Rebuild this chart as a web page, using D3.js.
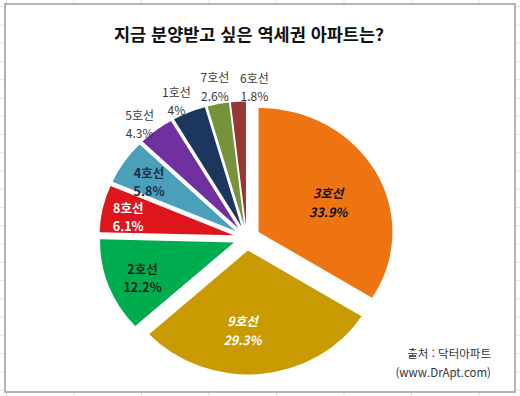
<!DOCTYPE html>
<html lang="ko">
<head>
<meta charset="UTF-8">
<title>역세권 아파트</title>
<style>
  body { margin: 0; background: #fff; }
  svg { display: block; font-family: "Noto Sans CJK KR", "Noto Sans", sans-serif; }
</style>
</head>
<body>
<div id="chart"></div>
<script src="https://d3js.org/d3.v7.min.js"></script>
<script>
// data, clockwise from 12 o'clock
const lines = ["3호선", "9호선", "2호선", "8호선", "4호선", "5호선", "1호선", "7호선", "6호선"];
const shares = [33.9, 29.3, 12.2, 6.1, 5.8, 4.3, 4, 2.6, 1.8];
const title = "지금 분양받고 싶은 역세권 아파트는?";
const source = ["출처 : 닥터아파트", "(www.DrApt.com)"];

const W = 520, H = 396;
const svg = d3.select("#chart").append("svg").attr("width", W).attr("height", H);

// excel sheet grid behind the chart
const grid = svg.append("g").attr("stroke", "#e3e3e3").attr("stroke-width", 1);
d3.range(6.5, W, 67.5).forEach(x => grid.append("line").attr("x1", x).attr("x2", x).attr("y1", 0).attr("y2", H));
d3.range(6.75, H, 18.25).forEach(y => grid.append("line").attr("x1", 0).attr("x2", W).attr("y1", y).attr("y2", y));

svg.append("rect")
    .attr("x", 5).attr("y", 4).attr("width", 510).attr("height", 388)
    .attr("fill", "#fff").attr("stroke", "#a0a0a0").attr("stroke-width", 1.6);

svg.append("text")
    .attr("x", 249).attr("y", 33)
    .attr("text-anchor", "middle").attr("dominant-baseline", "central")
    .style("font-size", "17.5px").style("font-weight", "bold").attr("fill", "#111")
    .text(title);

const color = d3.scaleOrdinal()
    .domain(lines)
    .range(["#ee7411", "#c99a02", "#00ad4e", "#dc161c", "#4a9fbb", "#7030a0", "#1b3760", "#76933c", "#953735"]);

const cx = 246.7, cy = 238, R = 124, sx = 1.08, explode = 12.5;

const data = lines.map((name, i) => ({name: name, share: shares[i]}));
const pie = d3.pie().sort(null).value(d => d.share);
const arc = d3.arc().innerRadius(0).outerRadius(R);
const arcs = pie(data);
const mid = d => (d.startAngle + d.endAngle) / 2;

const g = svg.append("g").attr("transform", `translate(${cx},${cy}) scale(${sx},1)`);
g.selectAll("path")
    .data(arcs)
    .join("path")
    .attr("transform", d => `translate(${Math.sin(mid(d)) * explode},${-Math.cos(mid(d)) * explode})`)
    .attr("d", arc)
    .attr("fill", d => color(d.data.name));

// label placement (manual nudges like dragged excel labels)
const nudge = {
  "3호선": [-13, 12], "9호선": [-14, -8], "2호선": [-3, 4], "8호선": [-13, 0], "4호선": [-8, -1],
  "5호선": [-6, 5], "1호선": [-6, 2], "7호선": [0, -3], "6호선": [17, 0]
};
const inside = d => d.data.share >= 5;
const labelStyle = {
  "3호선": {fill: "#111", weight: "bold", italic: true},
  "9호선": {fill: "#fff", weight: "bold", italic: true},
  "2호선": {fill: "#15251a", weight: "bold"},
  "8호선": {fill: "#fff", weight: "bold"},
  "4호선": {fill: "#1c2e48", weight: "bold"}
};

const labels = svg.append("g").selectAll("g")
    .data(arcs)
    .join("g")
    .attr("transform", d => {
      const r = inside(d) ? 100 : 152;
      const n = nudge[d.data.name];
      const x = cx + sx * Math.sin(mid(d)) * r + n[0];
      const y = cy - Math.cos(mid(d)) * r + n[1];
      return `translate(${x},${y})`;
    });

labels.each(function(d) {
  const st = labelStyle[d.data.name] || {fill: "#3a3a3a", weight: "normal"};
  const t = d3.select(this).append("text")
      .attr("text-anchor", "middle")
      .attr("fill", st.fill)
      .style("font-size", inside(d) ? "12.5px" : "12px")
      .style("font-weight", st.weight)
      .style("font-style", st.italic ? "italic" : "normal");
  t.append("tspan").attr("x", 0).attr("y", -9).attr("dominant-baseline", "central").text(d.data.name);
  t.append("tspan").attr("x", 0).attr("y", 9.5).attr("dominant-baseline", "central").text(d.data.share + "%");
});

svg.append("g").selectAll("text")
    .data(source)
    .join("text")
    .attr("x", 491)
    .attr("y", (d, i) => 353 + i * 19)
    .attr("text-anchor", "end").attr("dominant-baseline", "central")
    .style("font-size", "11.5px").attr("fill", "#333")
    .text(d => d);
</script>
</body>
</html>
